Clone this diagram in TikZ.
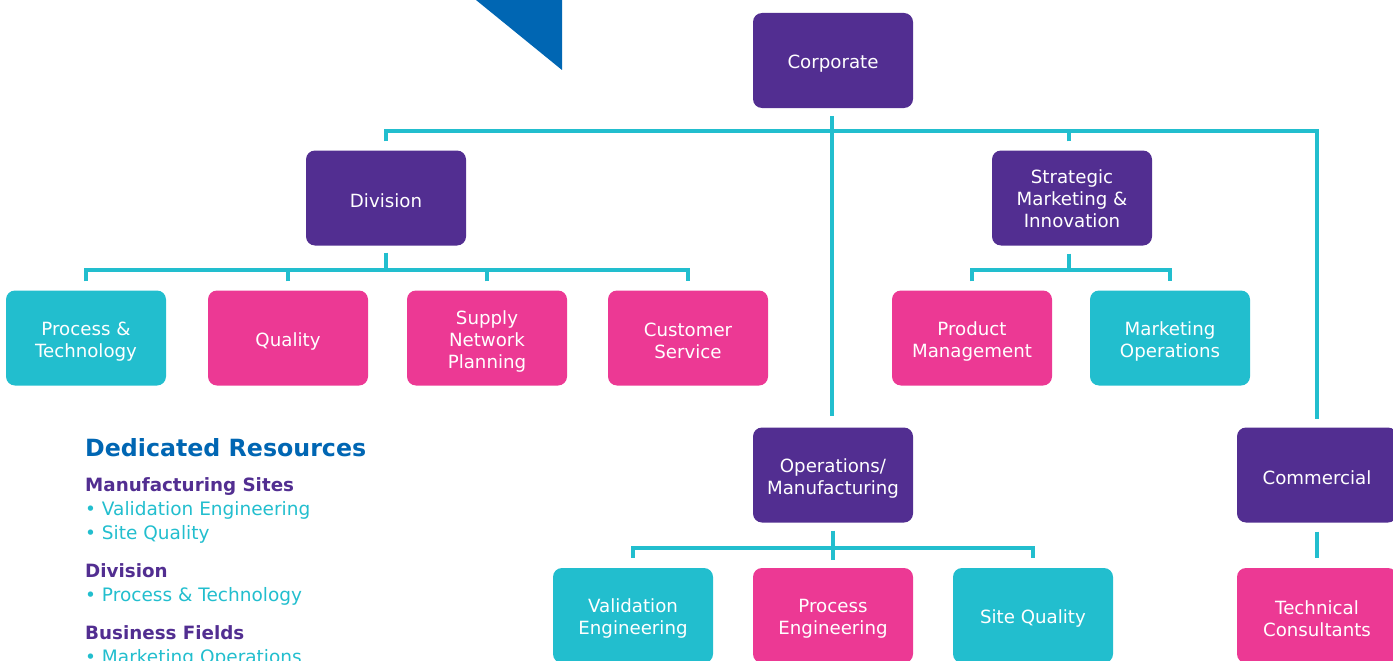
\documentclass[tikz,border=0pt]{standalone}
\usepackage{fontspec}
\setmainfont{DejaVu Sans}
\definecolor{purp}{HTML}{522E91}
\definecolor{pinkc}{HTML}{EC3994}
\definecolor{cyanc}{HTML}{22BECE}
\definecolor{dblue}{HTML}{0066B3}
\newcommand{\fls}{\rule{0pt}{20pt}}
\begin{document}
\begin{tikzpicture}[x=1pt,y=-1pt,
  box/.style={rounded corners=9pt, minimum width=160pt, minimum height=95pt, text=white, align=center,
    font=\fontsize{18.2}{22}\selectfont, inner sep=0pt, execute at begin node={\rule{0pt}{20pt}}},
  pbox/.style={box, fill=purp},
  kbox/.style={box, fill=pinkc},
  cbox/.style={box, fill=cyanc},
  conn/.style={draw=cyanc, line width=4pt},
  head/.style={anchor=base west, inner sep=0pt, text=purp, font=\fontsize{18.3}{22}\selectfont\bfseries},
  item/.style={anchor=base west, inner sep=0pt, text=cyanc, font=\fontsize{18.5}{22}\selectfont}]
\useasboundingbox (0,0) rectangle (1393,661);
\clip (0,0) rectangle (1393,661);
% triangle
\fill[dblue] (476,0) -- (562,0) -- (562,70) -- cycle;
% level 1
\node[pbox] (corp) at (833,60.5) {Corporate};
% level 2
\node[pbox] (div) at (386,198) {Division};
\node[pbox] (smi) at (1072,198) {\rule{0pt}{16pt}Strategic\\Marketing \&\\Innovation};
% level 3
\node[cbox] (pt) at (86,338) {\fls Process \&\\Technology};
\node[kbox] (qual) at (288,338) {Quality};
\node[kbox] (snp) at (487,338) {\fls Supply\\Network\\Planning};
\node[kbox] (cs) at (688,338) {\fls Customer\\Service};
\node[kbox] (pm) at (972,338) {\fls Product\\Management};
\node[cbox] (mo) at (1170,338) {\fls Marketing\\Operations};
% level 4
\node[pbox] (ops) at (833,475) {\fls Operations/\\Manufacturing};
\node[pbox] (comm) at (1317,475) {Commercial};
% level 5
\node[cbox] (ve) at (633,615.5) {\fls Validation\\Engineering};
\node[kbox] (pe) at (833,615.5) {\fls Process\\Engineering};
\node[cbox] (sq) at (1033,615.5) {Site Quality};
\node[kbox] (tc) at (1317,615.5) {\fls Technical\\Consultants};
% bus coordinates
\coordinate (topbus) at (832,131);
\coordinate (divbus) at (386,270);
\coordinate (smibus) at (1069,270);
\coordinate (opsbus) at (833,548);
% connectors
\draw[conn] ([yshift=-8pt]corp.south -| topbus) -- ([yshift=11pt]ops.north -| topbus);
\draw[conn] ([yshift=9pt]div.north) |- (topbus) -| ([yshift=8pt]comm.north);
\draw[conn] ([yshift=9pt]smibus |- smi.north) -- (smibus |- topbus);
% division bus
\draw[conn] ([yshift=-7pt]div.south) -- (divbus);
\draw[conn] ([yshift=9pt]pt.north) |- (divbus) -| ([yshift=9pt]cs.north);
\draw[conn] ([yshift=9pt]qual.north) -- (qual.north |- divbus);
\draw[conn] ([yshift=9pt]snp.north) -- (snp.north |- divbus);
% strategic bus
\draw[conn] ([yshift=-8pt]smibus |- smi.south) -- (smibus);
\draw[conn] ([yshift=9pt]pm.north) |- (smibus) -| ([yshift=9pt]mo.north);
% operations bus
\draw[conn] ([yshift=-8pt]ops.south) -- ([yshift=8pt]pe.north);
\draw[conn] ([yshift=10pt]ve.north) |- (opsbus) -| ([yshift=10pt]sq.north);
% commercial
\draw[conn] ([yshift=-9pt]comm.south) -- ([yshift=10pt]tc.north);
% dedicated resources
\node[anchor=base west, inner sep=0pt, text=dblue, font=\fontsize{23.7}{28}\selectfont\bfseries] (dr) at (85,456) {Dedicated Resources};
\node[head] (h1) at (85,491) {Manufacturing Sites};
\node[item] (i1) at (85,515) {• Validation Engineering};
\node[item] (i2) at (85,539) {• Site Quality};
\node[head] (h2) at (85,577) {Division};
\node[item] (i3) at (85,601) {• Process \& Technology};
\node[head] (h3) at (85,639) {Business Fields};
\node[item] (i4) at (85,663) {• Marketing Operations};
\end{tikzpicture}
\end{document}
